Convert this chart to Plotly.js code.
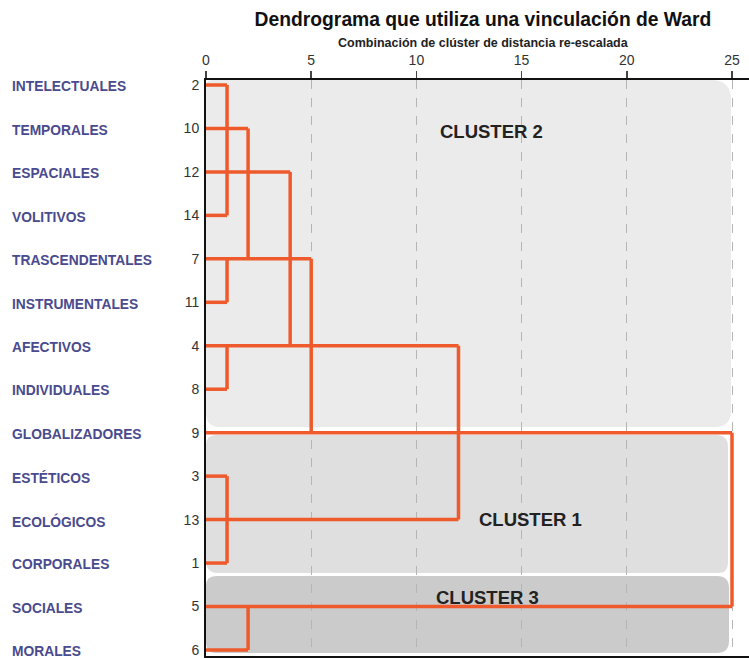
<!DOCTYPE html>
<html>
<head>
<meta charset="utf-8">
<script src="https://cdn.plot.ly/plotly-3.0.1.min.js"></script>
<style>html,body{margin:0;padding:0;background:#fff;}#chart{width:749px;height:659px;}</style>
</head>
<body>
<div id="chart"></div>
<script>
// ---- data ----
const leafNames = ["INTELECTUALES","TEMPORALES","ESPACIALES","VOLITIVOS","TRASCENDENTALES","INSTRUMENTALES","AFECTIVOS","INDIVIDUALES","GLOBALIZADORES","ESTÉTICOS","ECOLÓGICOS","CORPORALES","SOCIALES","MORALES"];
const leafIds = [2,10,12,14,7,11,4,8,9,3,13,1,5,6];
const leafJoin = [1,2,4,1,5,1,12,1,25,1,12,1,25,2];
const mergeDist = [1,2,4,1,5,1,12,1,25,2];
const mergeFrom = [2,10,12,7,7,4,4,3,9,5];
const mergeTo   = [14,7,4,11,9,8,13,1,5,6];
const xTicks = [0,5,10,15,20,25];
const clusterNames = ["CLUSTER 2","CLUSTER 1","CLUSTER 3"];

// ---- geometry helpers (pixel scale of the axes) ----
const pxPerX = 21.04, pxPerRow = 43.46;
const rowOf = id => leafIds.indexOf(id);
const rows = leafIds.map((_, i) => i);

// dendrogram segments
const lx = [], ly = [];
rows.forEach(i => { lx.push(0, leafJoin[i], null); ly.push(i, i, null); });
mergeDist.forEach((d, k) => { lx.push(d, d, null); ly.push(rowOf(mergeFrom[k]), rowOf(mergeTo[k]), null); });

function rrect(x0, x1, y0, y1, r, fill) {
  const ax = v => v / pxPerX, ay = v => v / pxPerRow;
  const p = `M ${x0 + ax(r[0])},${y0} L ${x1 - ax(r[1])},${y0} Q ${x1},${y0} ${x1},${y0 + ay(r[1])} ` +
            `L ${x1},${y1 - ay(r[2])} Q ${x1},${y1} ${x1 - ax(r[2])},${y1} ` +
            `L ${x0 + ax(r[3])},${y1} Q ${x0},${y1} ${x0},${y1 - ay(r[3])} ` +
            `L ${x0},${y0 + ay(r[0])} Q ${x0},${y0} ${x0 + ax(r[0])},${y0} Z`;
  return {type:'path', xref:'x', yref:'y', path:p, fillcolor:fill, line:{width:0}, layer:'below'};
}
const pxX = p => (p - 206) / pxPerX;
const pxY = p => (p - 85) / pxPerRow;

const shapes = [
  rrect(0, pxX(731), pxY(80), pxY(427), [6,20,16,14], '#ebebeb'),
  rrect(0, pxX(728), pxY(435), pxY(573), [10,12,10,12], '#dfdfdf'),
  rrect(0, pxX(729), pxY(576), pxY(653), [10,12,12,10], '#cbcbcb')
];

const font = "'Liberation Sans', Arial, sans-serif";
const annotations = leafNames.map((n, i) => ({
  xref:'paper', yref:'y', x:(10-206)/543, y:i+0.04, xanchor:'left', yanchor:'middle',
  text:'<b>'+n+'</b>', showarrow:false, font:{family:font, size:13.8, color:'#4a4a8e'}
}));
annotations.push({xref:'paper', yref:'paper', x:(483-206)/543, y:(656-43)/576, xanchor:'center', yanchor:'middle',
  text:'<b>Combinación de clúster de distancia re-escalada</b>', showarrow:false, font:{family:font, size:12.5, color:'#222'}});
const clusterPos = [[491,131],[530,519],[487,597]];
clusterNames.forEach((c, k) => annotations.push({
  xref:'x', yref:'y', x:pxX(clusterPos[k][0]), y:pxY(clusterPos[k][1]), xanchor:'center', yanchor:'middle',
  text:'<b>'+c+'</b>', showarrow:false, font:{family:font, size:18.5, color:'#222'}
}));

const trace = {x:lx, y:ly, mode:'lines', type:'scatter', line:{color:'#ee5a2c', width:3.5}, hoverinfo:'skip', connectgaps:false};

const layout = {
  width:749, height:659,
  margin:{l:206, r:0, t:80, b:3, pad:0},
  paper_bgcolor:'#fff', plot_bgcolor:'#fff',
  showlegend:false,
  title:{text:'<b>Dendrograma que utiliza una vinculación de Ward</b>', x:483/749, xanchor:'center', xref:'container',
         y:1-19/659, yanchor:'middle', yref:'container', font:{family:font, size:19.3, color:'#111'}},
  xaxis:{side:'top', range:[0, 543/pxPerX], tickvals:xTicks, ticktext:xTicks.map(String),
         ticks:'outside', ticklen:7, tickcolor:'#444', tickwidth:1.5,
         showline:true, linecolor:'#111', linewidth:2, mirror:true,
         showgrid:true, gridcolor:'#b5b5b5', griddash:'dash', gridwidth:1, zeroline:false,
         tickfont:{family:font, size:14, color:'#333'}, fixedrange:true},
  yaxis:{range:[pxY(656), pxY(80)], tickvals:rows, ticktext:leafIds.map(String), ticks:'',
         showline:true, linecolor:'#111', linewidth:2, showgrid:false, zeroline:false,
         ticklabelstandoff:2, tickfont:{family:font, size:14, color:'#333'}, fixedrange:true},
  shapes:shapes,
  annotations:annotations
};

Plotly.newPlot('chart', [trace], layout, {displayModeBar:false, staticPlot:true});
</script>
</body>
</html>
